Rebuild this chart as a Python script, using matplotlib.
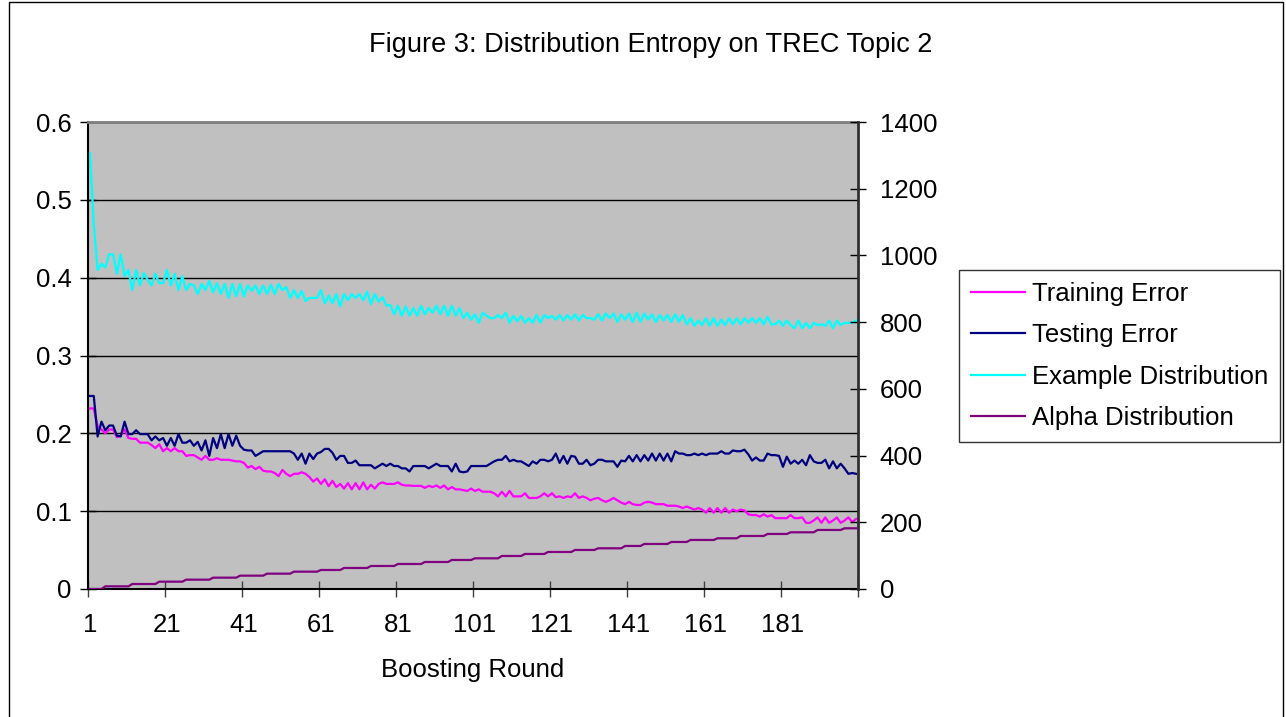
import matplotlib
matplotlib.use('Agg')
import matplotlib.pyplot as plt
from matplotlib.patches import Rectangle
import numpy as np

plt.rcParams['font.family'] = ['Liberation Sans', 'DejaVu Sans']
plt.rcParams['font.size'] = 18.5

# Boosting rounds 1..200
rounds = list(range(1, 201))

training_error = [
    0.232, 0.232, 0.209, 0.205, 0.200, 0.205, 0.205, 0.195, 0.197, 0.205,
    0.194, 0.193, 0.193, 0.188, 0.188, 0.188, 0.185, 0.181, 0.186, 0.177,
    0.181, 0.177, 0.181, 0.177, 0.177, 0.171, 0.172, 0.172, 0.169, 0.166,
    0.171, 0.166, 0.166, 0.168, 0.166, 0.166, 0.166, 0.165, 0.164, 0.164,
    0.162, 0.156, 0.158, 0.154, 0.157, 0.152, 0.151, 0.151, 0.149, 0.145,
    0.153, 0.148, 0.145, 0.148, 0.148, 0.150, 0.148, 0.144, 0.138, 0.142,
    0.135, 0.141, 0.132, 0.139, 0.131, 0.135, 0.129, 0.136, 0.128, 0.136,
    0.128, 0.137, 0.128, 0.134, 0.129, 0.135, 0.137, 0.135, 0.135, 0.135,
    0.137, 0.134, 0.133, 0.133, 0.1325, 0.1325, 0.1325, 0.130, 0.1325, 0.131,
    0.133, 0.130, 0.133, 0.128, 0.131, 0.128, 0.128, 0.127, 0.126, 0.129,
    0.126, 0.128, 0.125, 0.125, 0.125, 0.123, 0.119, 0.125, 0.119, 0.126,
    0.119, 0.119, 0.119, 0.123, 0.117, 0.117, 0.117, 0.119, 0.123, 0.119,
    0.123, 0.118, 0.119, 0.117, 0.119, 0.118, 0.123, 0.117, 0.119, 0.117,
    0.114, 0.116, 0.117, 0.114, 0.112, 0.114, 0.117, 0.114, 0.111, 0.109,
    0.112, 0.109, 0.108, 0.108, 0.111, 0.112, 0.111, 0.109, 0.109, 0.109,
    0.107, 0.107, 0.107, 0.106, 0.104, 0.106, 0.104, 0.102, 0.104, 0.102,
    0.098, 0.104, 0.098, 0.104, 0.098, 0.104, 0.098, 0.102, 0.100, 0.102,
    0.101, 0.096, 0.095, 0.095, 0.093, 0.096, 0.093, 0.095, 0.091, 0.091,
    0.091, 0.091, 0.095, 0.091, 0.091, 0.092, 0.085, 0.085, 0.088, 0.092,
    0.085, 0.092, 0.085, 0.088, 0.092, 0.085, 0.088, 0.092, 0.086, 0.090,
]

testing_error = [
    0.248, 0.248, 0.196, 0.215, 0.204, 0.210, 0.210, 0.197, 0.196, 0.215,
    0.199, 0.199, 0.204, 0.199, 0.199, 0.199, 0.191, 0.196, 0.191, 0.194,
    0.184, 0.194, 0.184, 0.199, 0.188, 0.188, 0.191, 0.184, 0.189, 0.178,
    0.191, 0.171, 0.194, 0.181, 0.199, 0.181, 0.199, 0.184, 0.197, 0.184,
    0.179, 0.178, 0.178, 0.171, 0.174, 0.177, 0.177, 0.177, 0.177, 0.177,
    0.177, 0.177, 0.177, 0.174, 0.166, 0.174, 0.161, 0.174, 0.167, 0.174,
    0.176, 0.180, 0.180, 0.175, 0.166, 0.171, 0.171, 0.162, 0.162, 0.165,
    0.159, 0.159, 0.159, 0.159, 0.155, 0.158, 0.161, 0.158, 0.161, 0.158,
    0.158, 0.155, 0.155, 0.151, 0.158, 0.158, 0.158, 0.158, 0.155, 0.158,
    0.161, 0.158, 0.158, 0.158, 0.151, 0.161, 0.151, 0.150, 0.151, 0.158,
    0.158, 0.158, 0.158, 0.158, 0.161, 0.164, 0.166, 0.166, 0.171, 0.164,
    0.166, 0.164, 0.164, 0.161, 0.158, 0.164, 0.161, 0.166, 0.166, 0.164,
    0.166, 0.174, 0.162, 0.171, 0.161, 0.171, 0.170, 0.161, 0.161, 0.166,
    0.159, 0.161, 0.166, 0.166, 0.164, 0.164, 0.164, 0.157, 0.165, 0.164,
    0.171, 0.164, 0.172, 0.164, 0.172, 0.165, 0.174, 0.165, 0.174, 0.165,
    0.174, 0.164, 0.177, 0.174, 0.174, 0.172, 0.172, 0.174, 0.172, 0.174,
    0.172, 0.174, 0.174, 0.174, 0.177, 0.174, 0.174, 0.178, 0.177, 0.177,
    0.179, 0.173, 0.165, 0.169, 0.165, 0.165, 0.174, 0.172, 0.172, 0.171,
    0.157, 0.170, 0.161, 0.165, 0.161, 0.166, 0.159, 0.172, 0.164, 0.162,
    0.162, 0.166, 0.155, 0.164, 0.155, 0.161, 0.155, 0.148, 0.149, 0.148,
]

example_dist = [
    0.560, 0.468, 0.410, 0.418, 0.413, 0.430, 0.430, 0.405, 0.430, 0.402,
    0.410, 0.384, 0.410, 0.390, 0.406, 0.397, 0.390, 0.405, 0.393, 0.393,
    0.410, 0.390, 0.405, 0.384, 0.402, 0.384, 0.392, 0.390, 0.379, 0.392,
    0.384, 0.396, 0.381, 0.393, 0.379, 0.392, 0.374, 0.392, 0.376, 0.392,
    0.376, 0.390, 0.383, 0.390, 0.379, 0.390, 0.379, 0.391, 0.379, 0.392,
    0.384, 0.388, 0.374, 0.384, 0.374, 0.383, 0.370, 0.374, 0.374, 0.374,
    0.384, 0.367, 0.377, 0.367, 0.379, 0.363, 0.379, 0.371, 0.379, 0.374,
    0.379, 0.371, 0.382, 0.366, 0.379, 0.369, 0.375, 0.364, 0.365, 0.353,
    0.364, 0.351, 0.363, 0.351, 0.361, 0.351, 0.364, 0.353, 0.361, 0.355,
    0.364, 0.353, 0.364, 0.351, 0.364, 0.351, 0.361, 0.348, 0.355, 0.346,
    0.353, 0.342, 0.355, 0.351, 0.348, 0.348, 0.352, 0.348, 0.355, 0.342,
    0.351, 0.344, 0.351, 0.342, 0.348, 0.342, 0.352, 0.342, 0.352, 0.348,
    0.351, 0.346, 0.352, 0.345, 0.352, 0.346, 0.353, 0.345, 0.352, 0.348,
    0.348, 0.346, 0.353, 0.345, 0.354, 0.348, 0.354, 0.343, 0.353, 0.346,
    0.354, 0.343, 0.355, 0.343, 0.354, 0.346, 0.353, 0.343, 0.352, 0.345,
    0.352, 0.343, 0.353, 0.343, 0.352, 0.340, 0.348, 0.338, 0.345, 0.339,
    0.348, 0.338, 0.348, 0.338, 0.346, 0.339, 0.348, 0.340, 0.348, 0.340,
    0.348, 0.342, 0.348, 0.342, 0.348, 0.340, 0.350, 0.340, 0.340, 0.345,
    0.338, 0.345, 0.339, 0.335, 0.345, 0.335, 0.342, 0.335, 0.342, 0.339,
    0.340, 0.338, 0.345, 0.335, 0.345, 0.339, 0.342, 0.342, 0.342, 0.345,
]

# alpha distribution plotted against the secondary (right) axis
alpha_dist = [
    0, 0, 0, 0, 8, 8, 8, 8, 8, 8,
    8, 15, 15, 15, 15, 15, 15, 15, 22, 22,
    22, 22, 22, 22, 22, 28, 28, 28, 28, 28,
    28, 28, 34, 34, 34, 34, 34, 34, 34, 40,
    40, 40, 40, 40, 40, 40, 46, 46, 46, 46,
    46, 46, 46, 52, 52, 52, 52, 52, 52, 52,
    57, 57, 57, 57, 57, 57, 63, 63, 63, 63,
    63, 63, 63, 69, 69, 69, 69, 69, 69, 69,
    75, 75, 75, 75, 75, 75, 75, 81, 81, 81,
    81, 81, 81, 81, 87, 87, 87, 87, 87, 87,
    92, 92, 92, 92, 92, 92, 92, 99, 99, 99,
    99, 99, 99, 105, 105, 105, 105, 105, 105, 111,
    111, 111, 111, 111, 111, 111, 117, 117, 117, 117,
    117, 117, 122, 122, 122, 122, 122, 122, 122, 129,
    129, 129, 129, 129, 135, 135, 135, 135, 135, 135,
    135, 141, 141, 141, 141, 141, 147, 147, 147, 147,
    147, 147, 147, 152, 152, 152, 152, 152, 152, 159,
    159, 159, 159, 159, 159, 159, 165, 165, 165, 165,
    165, 165, 170, 170, 170, 170, 170, 170, 170, 177,
    177, 177, 177, 177, 177, 177, 182, 182, 182, 182,
]

left_ticks = [0, 0.1, 0.2, 0.3, 0.4, 0.5, 0.6]
left_labels = ['0', '0.1', '0.2', '0.3', '0.4', '0.5', '0.6']
right_ticks = [0, 200, 400, 600, 800, 1000, 1200, 1400]
x_labels = ['1', '21', '41', '61', '81', '101', '121', '141', '161', '181']

W, H = 1286, 717
fig = plt.figure(figsize=(W / 100, H / 100), dpi=100)
fig.patch.set_facecolor('white')

# plot area in pixels: left 88, right 858, top 122, bottom 589
ax = fig.add_axes([88 / W, 1 - 589 / H, (858 - 88) / W, (589 - 122) / H])
ax.set_facecolor('#C0C0C0')

l1, = ax.plot(rounds, training_error, color='#FF00FF', lw=1.6, label='Training Error')
l2, = ax.plot(rounds, testing_error, color='#000080', lw=1.6, label='Testing Error')
l3, = ax.plot(rounds, example_dist, color='#00FFFF', lw=1.6, label='Example Distribution')

ax2 = ax.twinx()
l4, = ax2.plot(rounds, alpha_dist, color='#800080', lw=1.6, label='Alpha Distribution')

ax.set_xlim(0.5, 200.5)
ax.set_ylim(0, 0.6)
ax2.set_ylim(0, 1400)

ax.set_yticks(left_ticks)
ax.set_yticklabels(left_labels)
ax2.set_yticks(right_ticks)
ax2.set_yticklabels([str(t) for t in right_ticks])

# category boundaries as tick marks, labels centred on categories
ax.set_xticks(np.arange(0.5, 201, 20))
ax.set_xticklabels([])
ax.set_xticks([int(v) for v in x_labels], minor=True)
ax.set_xticklabels(x_labels, minor=True)
ax.tick_params(axis='x', which='major', direction='inout', length=11.5, width=1, color='#404040')
ax.tick_params(axis='x', which='minor', length=0, pad=17)
ax.tick_params(axis='y', direction='inout', length=11.5, width=1, pad=6)
ax2.tick_params(axis='y', direction='inout', length=11.5, width=1, pad=10)

ax.yaxis.grid(True, color='black', lw=1)
ax.set_axisbelow(True)

for s in ['left', 'bottom']:
    ax.spines[s].set_color('black')
    ax.spines[s].set_linewidth(1.5)
ax.spines['top'].set_color('#808080')
ax.spines['top'].set_linewidth(2)
ax.spines['right'].set_visible(False)
for s in ['left', 'bottom', 'top']:
    ax2.spines[s].set_visible(False)
ax2.spines['right'].set_color('#303030')
ax2.spines['right'].set_linewidth(2)

ax.set_xlabel('Boosting Round', va='center')
ax.xaxis.set_label_coords(0.5, -(670 - 589) / (589 - 122))

fig.text(651 / W, 1 - 45 / H, 'Figure 3: Distribution Entropy on TREC Topic 2',
         ha='center', va='center', fontsize=19.5)

leg = fig.legend([l1, l2, l3, l4],
                 ['Training Error', 'Testing Error', 'Example Distribution', 'Alpha Distribution'],
                 loc='upper left', bbox_to_anchor=(959 / W, 1 - 270 / H),
                 frameon=True, fancybox=False, shadow=False, edgecolor='black',
                 handlelength=2.1, handletextpad=0.3, labelspacing=0.68,
                 borderpad=0.45, borderaxespad=0, fontsize=18.5)
leg.get_frame().set_linewidth(1)

# outer chart border
fig.patches.append(Rectangle((9 / W, -0.05), (1283 - 9) / W, 1.05 - 2 / H,
                             transform=fig.transFigure, fill=False,
                             edgecolor='black', lw=1))

fig.savefig('out.png', dpi=100)
